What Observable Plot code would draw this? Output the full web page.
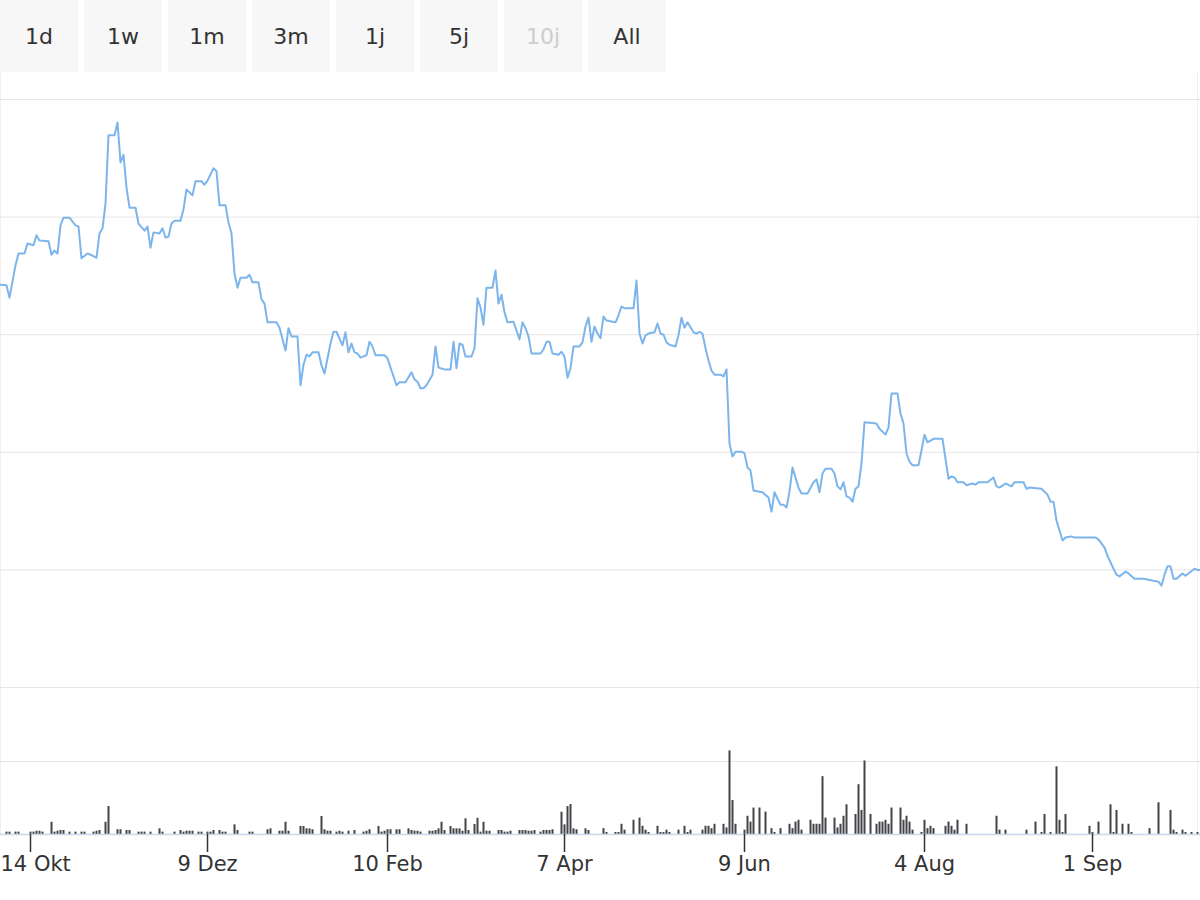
<!DOCTYPE html>
<html>
<head>
<meta charset="utf-8">
<script src="https://cdn.jsdelivr.net/npm/d3@7"></script>
<script src="https://cdn.jsdelivr.net/npm/@observablehq/plot@0.6"></script>
<style>
  body { margin: 0; background: #ffffff; font-family: "DejaVu Sans", sans-serif; }
  #wrap { position: relative; width: 1200px; height: 900px; overflow: hidden; background: #fff; }
  .btn { position: absolute; top: 0; width: 78px; height: 72px; background: #f7f7f7; color: #333333;
         font-size: 22px; display: flex; align-items: center; justify-content: center; }
  .btn.off { color: #cccccc; }
  #edges { position: absolute; left: 0; top: 72px; width: 1196px; height: 762px;
           border-left: 1px solid #efefef; border-right: 1px solid #efefef; }
  #price { position: absolute; left: 0; top: 80px; }
  #volume { position: absolute; left: 0; top: 700px; }
</style>
</head>
<body>
<div id="wrap">
  <div id="edges"></div>
  <div id="buttons"></div>
  <div id="price"></div>
  <div id="volume"></div>
</div>
<script>
// ---- Range selector buttons ----
const rangeButtons = ["1d", "1w", "1m", "3m", "1j", "5j", "10j", "All"];
const disabledButton = "10j";

// ---- X axis (trading-day index) tick labels ----
const tickDays = [10, 69, 129, 188, 248, 308, 364];
const tickLabels = ["14 Okt", "9 Dez", "10 Feb", "7 Apr", "9 Jun", "4 Aug", "1 Sep"];

// ---- Price series (trading-day index, close) ----
const priceDays = [0,2,3,5,6,8,9,11,12,13,16,17,18,19,20,21,23,25,26,27,29,30,32,33,34,35,36,38,39,40,41,42,43,45,46,48,49,50,51,53,54,55,56,57,58,60,61,62,64,65,67,68,69,71,72,73,75,76,77,78,79,80,82,83,84,86,87,88,89,92,93,95,96,97,99,100,101,102,103,104,106,107,108,110,111,112,114,115,116,117,118,119,120,122,123,124,125,128,129,130,132,133,135,137,138,139,140,141,142,144,145,146,148,150,151,152,153,154,155,157,158,159,160,161,162,164,165,166,167,168,169,171,173,174,175,176,177,180,181,182,183,184,186,187,188,189,190,191,193,194,195,196,197,198,199,200,201,202,204,205,206,207,208,211,212,213,214,215,216,218,219,220,221,222,223,225,226,227,228,229,231,232,233,234,235,236,237,238,240,241,242,243,244,245,247,248,249,250,251,253,254,256,257,258,259,260,261,262,263,264,266,267,269,271,272,273,274,275,277,278,279,280,281,282,283,284,285,286,287,288,292,293,295,296,297,299,300,301,302,303,304,306,307,308,309,311,314,316,317,318,319,321,322,324,325,326,329,331,332,333,335,337,338,341,342,343,347,349,350,351,352,354,355,357,358,365,366,368,369,371,372,373,375,376,378,381,386,387,388,389,390,391,392,394,395,396,398,399,400];
const priceValues = [16.85,16.84,16.63,17.18,17.38,17.38,17.55,17.52,17.69,17.60,17.59,17.36,17.43,17.38,17.86,17.99,17.99,17.86,17.84,17.30,17.38,17.36,17.31,17.72,17.81,18.23,19.39,19.39,19.61,18.93,19.06,18.50,18.16,18.16,17.89,17.77,17.84,17.48,17.74,17.72,17.81,17.65,17.67,17.89,17.94,17.94,18.13,18.47,18.37,18.61,18.61,18.55,18.62,18.83,18.78,18.20,18.20,17.91,17.72,17.04,16.80,16.97,16.97,17.02,16.89,16.89,16.60,16.53,16.21,16.21,16.12,15.73,16.11,15.97,15.97,15.14,15.49,15.66,15.63,15.70,15.70,15.48,15.34,15.85,16.05,16.05,15.82,16.04,15.70,15.85,15.70,15.68,15.61,15.65,15.88,15.80,15.65,15.65,15.60,15.44,15.14,15.19,15.19,15.36,15.24,15.20,15.09,15.09,15.14,15.32,15.80,15.44,15.41,15.41,15.88,15.43,15.85,15.83,15.63,15.63,15.77,16.62,16.46,16.17,16.80,16.80,17.09,16.53,16.68,16.38,16.21,16.22,15.92,16.21,16.11,15.97,15.68,15.68,15.75,15.88,15.88,15.68,15.66,15.71,15.63,15.27,15.43,15.80,15.80,15.87,16.14,16.29,15.88,16.14,16.02,15.94,16.31,16.24,16.22,16.21,16.33,16.48,16.45,16.45,16.92,16.02,15.85,15.99,16.02,16.04,16.19,16.02,16.00,15.87,15.83,15.80,15.99,16.29,16.12,16.21,16.04,16.02,16.05,16.02,15.77,15.56,15.39,15.32,15.32,15.29,15.41,14.15,13.93,14.01,14.01,13.98,13.74,13.69,13.35,13.33,13.32,13.23,12.99,13.32,13.21,13.11,13.11,13.06,13.33,13.74,13.40,13.30,13.30,13.49,13.54,13.32,13.64,13.72,13.72,13.64,13.42,13.37,13.49,13.25,13.23,13.16,13.38,13.42,13.81,14.51,14.49,14.40,14.30,14.42,15.00,15.00,14.66,14.49,13.98,13.84,13.78,13.78,14.03,14.30,14.17,14.23,14.23,13.55,13.59,13.57,13.49,13.49,13.44,13.47,13.45,13.49,13.49,13.57,13.42,13.40,13.47,13.42,13.49,13.49,13.38,13.40,13.38,13.28,13.16,13.16,12.84,12.50,12.55,12.57,12.55,12.55,12.52,12.38,12.24,12.02,11.92,11.89,11.97,11.94,11.85,11.85,11.80,11.73,11.92,12.06,12.06,11.85,11.85,11.94,11.90,11.94,12.02,12.00,12.00];
const priceGrid = [10, 12, 14, 16, 18, 20];

// ---- Volume series (trading-day index, volume in thousands) ----
const volumeDays = [2,3,5,6,10,11,12,13,14,17,18,19,20,21,23,25,27,28,31,32,33,35,36,39,40,42,43,46,47,48,50,53,54,58,60,61,62,63,64,66,67,69,70,71,73,74,75,78,79,83,84,89,90,93,94,95,96,100,101,102,103,104,107,108,109,110,112,113,114,116,118,121,122,123,126,127,128,129,130,132,133,136,137,138,139,140,143,144,145,146,147,148,150,151,152,153,154,155,156,158,159,160,161,162,163,166,167,168,169,170,173,174,175,176,177,178,180,181,182,183,184,187,188,189,190,191,192,195,196,201,202,205,206,207,208,211,213,214,215,216,219,220,221,222,223,226,228,229,230,234,235,236,237,238,241,242,243,244,245,248,249,250,251,253,255,257,258,260,263,264,265,266,267,270,271,272,273,274,275,278,279,280,281,282,285,286,287,288,290,292,293,294,295,296,297,300,301,302,303,304,307,308,309,310,311,315,316,317,318,319,322,332,333,335,342,345,347,348,350,352,353,354,355,363,364,366,370,371,372,374,376,377,383,386,390,391,392,394,395,397,399];
const volumeValues = [1.3,1.3,1.3,1.3,1.3,1.3,1.8,1.8,1.3,6.7,1.3,1.8,2.2,2.2,1.3,1.3,1.3,1.3,1.3,1.8,2.2,6.7,15.3,2.6,2.6,2.2,2.2,1.3,1.3,1.3,1.3,3.1,1.3,1.3,2.2,1.3,1.8,1.8,1.8,1.3,1.3,1.3,1.3,2.2,2.2,1.3,1.3,5.3,2.2,1.3,1.3,2.6,3.1,1.8,1.8,6.7,1.8,4.4,4.4,3.1,3.1,2.6,9.9,2.6,1.8,1.8,1.3,1.8,1.3,1.8,2.2,1.3,1.8,2.6,4.4,1.3,1.8,2.6,2.6,2.6,2.6,3.1,2.2,1.8,1.8,1.3,1.8,1.8,2.2,3.1,6.7,2.2,4.4,3.1,3.1,3.1,1.8,8.6,2.2,5.5,8.9,1.3,6.7,1.8,1.8,2.2,2.2,1.3,1.3,1.8,2.2,2.2,2.2,1.8,1.8,2.2,1.3,2.2,2.2,2.2,2.6,12.2,5.3,15.3,16.4,3.1,2.6,3.1,2.2,3.2,1.1,1.1,1.1,5.6,2.4,7.8,9.0,4.5,2.4,1.1,4.5,1.1,1.1,2.4,1.1,2.4,4.5,1.1,2.4,2.4,4.5,4.5,3.2,5.6,5.6,3.6,45.8,18.6,5.6,2.4,10.0,6.8,14.5,14.5,12.3,3.2,1.1,3.2,5.6,3.2,6.8,7.8,2.4,7.8,5.6,5.6,5.6,31.7,9.0,9.0,3.6,5.6,10.0,16.3,11.0,27.3,13.2,40.3,11.0,5.6,6.8,6.8,7.8,5.6,14.5,14.5,7.8,10.0,6.8,2.4,1.1,7.8,3.2,4.5,3.2,4.5,6.8,4.5,2.4,7.8,5.6,10.0,2.4,2.4,2.4,6.8,1.1,11.0,1.1,37.1,7.8,1.1,11.0,4.5,1.1,6.8,16.3,1.1,13.2,5.6,5.6,1.1,3.2,17.4,13.2,2.4,1.1,2.4,1.1,1.1,1.1];
const volumeGrid = [40];

// ---- build tables ----
const price = priceDays.map((d, i) => ({day: d, value: priceValues[i]}));
const volume = volumeDays.map((d, i) => ({day: d, value: volumeValues[i]}));
const ticks = tickDays.map((d, i) => ({day: d, label: tickLabels[i]}));

// buttons
const bdiv = document.getElementById("buttons");
rangeButtons.forEach((t, i) => {
  const b = document.createElement("div");
  b.className = "btn" + (t === disabledButton ? " off" : "");
  b.style.left = (i * 84) + "px";
  b.textContent = t;
  bdiv.appendChild(b);
});

const xDomain = [0, 400];

const pricePlot = Plot.plot({
  width: 1200,
  height: 608,
  marginTop: 19,
  marginBottom: 1,
  marginLeft: 0,
  marginRight: 0,
  style: {background: "transparent", overflow: "visible"},
  x: {domain: xDomain, axis: null},
  y: {domain: [10, 20], axis: null},
  marks: [
    Plot.ruleY(priceGrid, {stroke: "#e6e6e6", strokeWidth: 1}),
    Plot.line(price, {x: "day", y: "value", stroke: "#7cb5ec", strokeWidth: 2, curve: "linear"})
  ]
});
document.getElementById("price").appendChild(pricePlot);

const volumePlot = Plot.plot({
  width: 1200,
  height: 200,
  marginTop: 61,
  marginBottom: 66,
  marginLeft: 0,
  marginRight: 0,
  style: {background: "transparent", overflow: "visible"},
  x: {domain: xDomain, label: null},
  y: {domain: [0, 40], axis: null},
  marks: [
    Plot.ruleY(volumeGrid, {stroke: "#e6e6e6", strokeWidth: 1}),
    Plot.ruleX(volume, {x: "day", y1: 0, y2: "value", stroke: "#434348", strokeWidth: 2}),
    Plot.ruleY([0], {stroke: "#ccd6eb", strokeWidth: 1.5}),
    Plot.axisX({ticks: tickDays, tickSize: 18, tickFormat: () => "", label: null, stroke: "#333333", strokeWidth: 1.5}),
    Plot.text(ticks.slice(1), {x: "day", text: "label", frameAnchor: "bottom", dy: 36,
      fontSize: 21, fontFamily: "DejaVu Sans", fill: "#333333"}),
    Plot.text(ticks.slice(0, 1), {text: "label", frameAnchor: "bottom-left", textAnchor: "start", dy: 36,
      fontSize: 21, fontFamily: "DejaVu Sans", fill: "#333333"})
  ]
});
document.getElementById("volume").appendChild(volumePlot);
</script>
</body>
</html>
